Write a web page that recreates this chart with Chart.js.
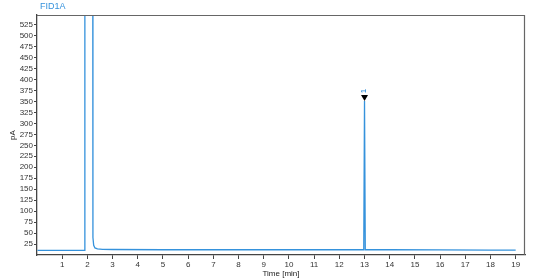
<!DOCTYPE html>
<html><head><meta charset="utf-8">
<script src="https://cdn.jsdelivr.net/npm/chart.js@4"></script>
<style>html,body{margin:0;padding:0;background:#fff}#wrap{width:554px;height:280px;position:relative}</style>
</head><body><div id="wrap"><canvas id="c"></canvas></div>
<script>
const seriesName = 'FID1A';
const timeMin = [0.02, 1.86, 1.88, 1.9, 2.2, 2.22, 2.25, 2.3, 2.4, 2.6, 3.0, 5.0, 8.0, 10.0, 12.0, 12.97, 13.0, 13.03, 14.0, 16.0, 18.0, 19.0];
const signalPA = [10.5, 10.5, 10.5, 2000, 2000, 40, 22, 16, 14, 13, 12.5, 12, 12, 12, 12, 12, 351, 12, 12, 11.5, 11, 11];
const peakTimes = [13.0];
const peakHeights = [351];
const peakLabels = ['1'];
const xTicks = [1,2,3,4,5,6,7,8,9,10,11,12,13,14,15,16,17,18,19];
const yTicks = [25,50,75,100,125,150,175,200,225,250,275,300,325,350,375,400,425,450,475,500,525];

const blue = '#3592dc';
const axisCol = '#444';
const font = {family: '"Liberation Sans", Arial, sans-serif', size: 8};

const framePlugin = {
  id: 'frame',
  afterDraw(chart) {
    const {ctx, chartArea: a, scales} = chart;
    ctx.save();
    ctx.strokeStyle = '#666';
    ctx.lineWidth = 1.2;
    ctx.beginPath();
    ctx.moveTo(a.left, a.top + 0.5);
    ctx.lineTo(a.right - 0.5, a.top + 0.5);
    ctx.lineTo(a.right - 0.5, a.bottom);
    ctx.stroke();
    ctx.fillStyle = blue;
    ctx.font = '9px "Liberation Sans", Arial, sans-serif';
    ctx.textBaseline = 'middle';
    ctx.fillText(seriesName, 40, 7);
    peakTimes.forEach((t, i) => {
      const px = scales.x.getPixelForValue(t);
      const py = scales.y.getPixelForValue(peakHeights[i]);
      ctx.fillStyle = '#000';
      ctx.beginPath();
      ctx.moveTo(px - 3.5, py - 6);
      ctx.lineTo(px + 3.5, py - 6);
      ctx.lineTo(px, py);
      ctx.closePath();
      ctx.fill();
      ctx.save();
      ctx.translate(px, py - 8);
      ctx.rotate(-Math.PI / 2);
      ctx.fillStyle = blue;
      ctx.font = 'bold 7px "Liberation Sans", Arial, sans-serif';
      ctx.textAlign = 'left';
      ctx.textBaseline = 'middle';
      ctx.fillText(peakLabels[i], 0, 0);
      ctx.restore();
    });
    ctx.restore();
  }
};

new Chart(document.getElementById('c'), {
  type: 'line',
  data: {
    datasets: [{
      data: timeMin.map((t, i) => ({x: t, y: signalPA[i]})),
      borderColor: blue,
      borderWidth: 1.3,
      pointRadius: 0,
      tension: 0,
      fill: false
    }]
  },
  options: {
    responsive: true,
    maintainAspectRatio: false,
    animation: false,
    layout: {padding: {left: 0, top: 15, right: 29, bottom: 0}},
    plugins: {legend: {display: false}, tooltip: {enabled: false}},
    scales: {
      x: {
        type: 'linear', min: 0, max: 19.37,
        afterBuildTicks(s) { s.ticks = xTicks.map(v => ({value: v})); },
        afterFit(s) { s.height = 25; },
        grid: {drawOnChartArea: false, drawTicks: true, tickLength: 4, color: axisCol},
        border: {display: true, color: axisCol, width: 1.3},
        ticks: {color: '#333', font, padding: 1, maxRotation: 0, autoSkip: false},
        title: {display: true, text: 'Time [min]', color: '#222', font, padding: {top: 0, bottom: 1}}
      },
      y: {
        type: 'linear', min: 0, max: 547,
        afterBuildTicks(s) { s.ticks = yTicks.map(v => ({value: v})); },
        afterFit(s) { s.width = 37; },
        grid: {drawOnChartArea: false, drawTicks: true, tickLength: 3, color: axisCol},
        border: {display: true, color: axisCol, width: 1.3},
        ticks: {color: '#333', font, padding: 1, autoSkip: false},
        title: {display: true, text: 'pA', color: '#222', font, padding: {top: 8, bottom: 0}}
      }
    }
  },
  plugins: [framePlugin]
});
</script></body></html>
